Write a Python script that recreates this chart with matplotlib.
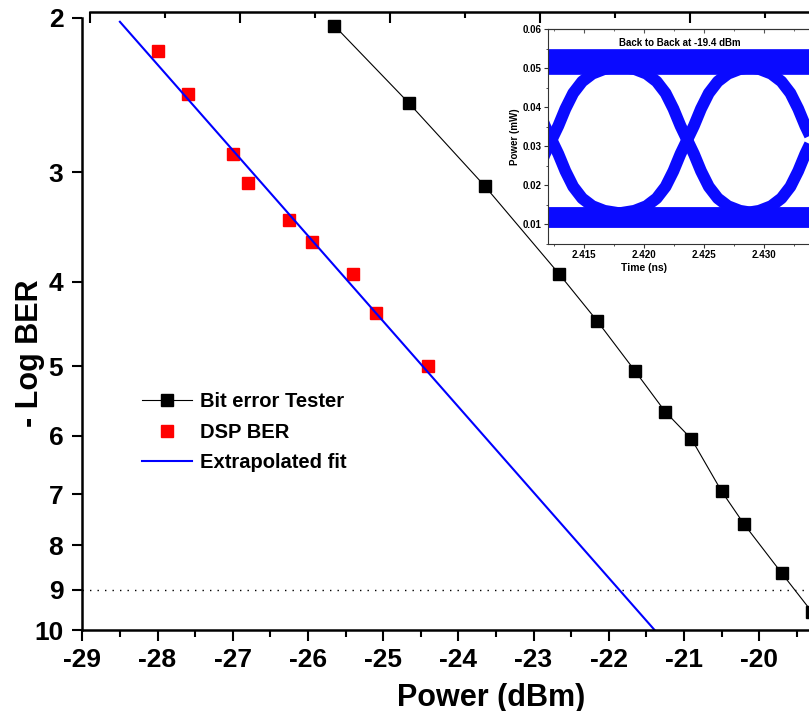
import numpy as np
import matplotlib
matplotlib.use('Agg')
import matplotlib.pyplot as plt
from matplotlib.ticker import FixedLocator, MultipleLocator, NullLocator, FormatStrFormatter

plt.rcParams['font.family'] = ['Liberation Sans', 'DejaVu Sans']
plt.rcParams['font.weight'] = 'bold'

# bit error tester measurements
bet_power = [-25.65, -24.66, -23.65, -22.66, -22.15, -21.65, -21.25, -20.90, -20.50, -20.20, -19.70, -19.30]
bet_logber = [2.04, 2.50, 3.11, 3.92, 4.44, 5.06, 5.63, 6.05, 6.94, 7.57, 8.61, 9.53]

# BER estimated from the DSP
dsp_power = [-28.0, -27.6, -27.0, -26.8, -26.25, -25.95, -25.4, -25.1, -24.4]
dsp_logber = [2.18, 2.44, 2.86, 3.09, 3.40, 3.60, 3.92, 4.35, 5.00]

# extrapolated fit through the DSP points
fit_power = [-28.5, -21.39]
fit_logber = [2.02, 10.0]

fec_limit = 9

y_ticks = [2, 3, 4, 5, 6, 7, 8, 9, 10]
x_ticks = [-29, -28, -27, -26, -25, -24, -23, -22, -21, -20]

# eye diagram (inset)
eye_rail_t = [2.405, 2.440]
eye_top_p = [0.0515, 0.0515]
eye_bot_p = [0.0119, 0.0119]
eye_cross_t = [2.4123, 2.4236, 2.4340]
edge_dt = [-0.00560, -0.00440, -0.00340, -0.00255, -0.00180, -0.00115, -0.00056, 0.0,
           0.00056, 0.00115, 0.00180, 0.00255, 0.00340, 0.00440, 0.00560]
rise_p = [0.0128, 0.0134, 0.0146, 0.0166, 0.0196, 0.0236, 0.0280, 0.0316,
          0.0352, 0.0396, 0.0436, 0.0466, 0.0486, 0.0498, 0.0504]
fall_p = rise_p[::-1]

W, H = 809, 711
fig = plt.figure(figsize=(W / 100, H / 100), dpi=100)
ax = fig.add_axes([82.3 / W, 81 / H, 752 / W, 612 / H])

ax.plot(bet_power, bet_logber, '-s', color='black', lw=0.8, ms=8, label='Bit error Tester')
ax.plot(dsp_power, dsp_logber, 's', color='red', ms=8, label='DSP BER')
ax.plot(fit_power, fit_logber, color='blue', lw=1.5, label='Extrapolated fit')
ax.axhline(fec_limit, color='black', lw=1.0, ls=(0, (1, 4.4)))

ax.set_yscale('log')
ax.set_ylim(10, 2)
ax.set_xlim(-29, -19)
ax.yaxis.set_major_locator(FixedLocator(y_ticks))
ax.yaxis.set_minor_locator(NullLocator())
ax.set_yticklabels([str(v) for v in y_ticks])
ax.xaxis.set_major_locator(FixedLocator(x_ticks))
ax.xaxis.set_minor_locator(MultipleLocator(0.5))
ax.set_xticklabels([str(v) for v in x_ticks])

for s in ['top', 'right']:
    ax.spines[s].set_visible(False)
for s in ['left', 'bottom']:
    ax.spines[s].set_linewidth(1.8)
ax.tick_params(axis='y', which='major', direction='out', length=7.2, width=1.5, pad=6.5, labelsize=19)
ax.tick_params(axis='x', which='major', direction='out', length=8, width=1.5, pad=5, labelsize=19)
ax.tick_params(axis='x', which='minor', direction='out', length=4.8, width=1.5)

ax.set_xlabel('Power (dBm)', fontsize=22, fontweight='bold')
ax.xaxis.set_label_coords(0.5435, -0.087)
ax.set_ylabel('- Log BER', fontsize=22, fontweight='bold')
ax.yaxis.set_label_coords(-0.0500, 0.4518)

ax.legend(loc='upper left', bbox_to_anchor=(0.0794, 0.389), frameon=False,
          borderpad=0, borderaxespad=0, handlelength=2.5, handletextpad=0.4,
          labelspacing=0.58, prop={'weight': 'bold', 'size': 14.5})

# the top frame line sits slightly offset from the main axes
ax_top = fig.add_axes([90 / W, 0.9, 0.95, (H - 12.3) / H - 0.9])
ax_top.patch.set_visible(False)
for s in ['left', 'right', 'bottom']:
    ax_top.spines[s].set_visible(False)
ax_top.spines['top'].set_linewidth(1.8)
ax_top.set_xlim(0, 0.95 * W / 75)
ax_top.set_ylim(0, 1)
ax_top.xaxis.set_major_locator(MultipleLocator(2))
ax_top.xaxis.set_minor_locator(MultipleLocator(1))
ax_top.yaxis.set_major_locator(NullLocator())
ax_top.tick_params(axis='x', which='both', bottom=False, top=True, labelbottom=False,
                   labeltop=False, direction='in', width=1.5)
ax_top.tick_params(axis='x', which='major', length=8)
ax_top.tick_params(axis='x', which='minor', length=4)

# inset: eye diagram
eye_blue = '#0a0aff'
axin = fig.add_axes([548.3 / W, (H - 243.5) / H, 293.7 / W, 214.2 / H])
axin.set_facecolor('white')
axin.plot(eye_rail_t, eye_top_p, color=eye_blue, lw=18.5, solid_capstyle='butt')
axin.plot(eye_rail_t, eye_bot_p, color=eye_blue, lw=15, solid_capstyle='butt')
for tc in eye_cross_t:
    t = [tc + d for d in edge_dt]
    axin.plot(t, rise_p, color=eye_blue, lw=8.5, solid_capstyle='butt', solid_joinstyle='round')
    axin.plot(t, fall_p, color=eye_blue, lw=8.5, solid_capstyle='butt', solid_joinstyle='round')

axin.set_xlim(2.412025, 2.4365)
axin.set_ylim(0.005, 0.06)
axin.xaxis.set_major_locator(FixedLocator([2.415, 2.420, 2.425, 2.430, 2.435]))
axin.xaxis.set_minor_locator(MultipleLocator(0.0025))
axin.xaxis.set_major_formatter(FormatStrFormatter('%.3f'))
axin.yaxis.set_major_locator(MultipleLocator(0.01))
axin.yaxis.set_minor_locator(MultipleLocator(0.005))
axin.yaxis.set_major_formatter(FormatStrFormatter('%.2f'))
for s in axin.spines.values():
    s.set_linewidth(0.8)
    s.set_color('#333333')
axin.spines['right'].set_visible(False)
axin.tick_params(which='both', direction='out', labelsize=7, pad=2, color='#333333')
axin.tick_params(which='major', length=3)
axin.tick_params(which='minor', length=1.5)

# inward ticks along the top of the inset
sec = axin.secondary_xaxis('top')
sec.xaxis.set_major_locator(FixedLocator([2.415, 2.420, 2.425, 2.430, 2.435]))
sec.xaxis.set_minor_locator(MultipleLocator(0.0025))
sec.tick_params(which='both', direction='in', labeltop=False, color='#555555')
sec.tick_params(which='major', length=3)
sec.tick_params(which='minor', length=1.5)
sec.spines['top'].set_linewidth(0.8)
sec.spines['top'].set_color('#555555')

axin.set_xlabel('Time (ns)', fontsize=7.5, fontweight='bold')
axin.xaxis.set_label_coords(0.326, -0.091)
axin.set_ylabel('Power (mW)', fontsize=7, fontweight='bold', labelpad=2)
axin.text(0.4474, 0.9375, 'Back to Back at -19.4 dBm', transform=axin.transAxes,
          ha='center', va='center', fontsize=7, fontweight='bold')

fig.savefig('out.png', dpi=100)
